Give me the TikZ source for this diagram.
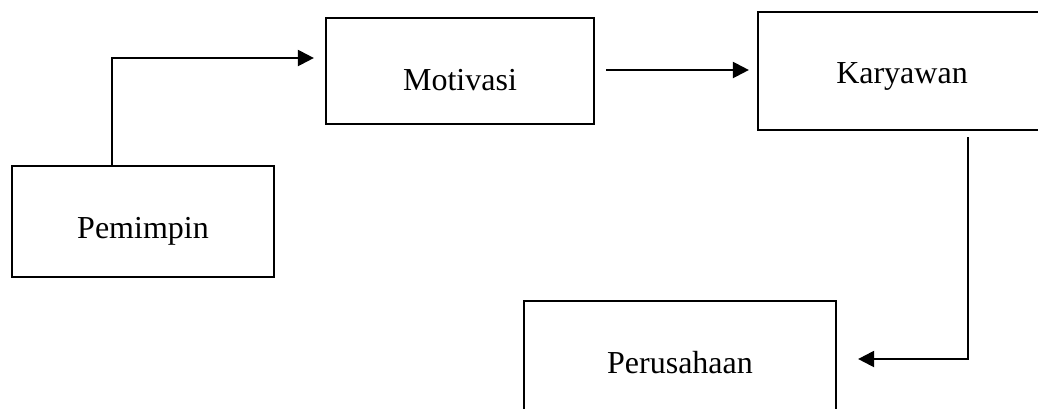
\documentclass[tikz,border=0pt]{standalone}
\usepackage{fontspec}
\setmainfont{Liberation Serif}
\usetikzlibrary{arrows.meta}
\begin{document}
\begin{tikzpicture}[x=1pt,y=-1pt,
  box/.style={draw,line width=2.2pt,inner sep=0pt,text depth=0pt,
    font=\fontsize{32}{36}\selectfont},
  arr/.style={line width=2.2pt,-{Triangle[length=16pt,width=16pt]}}]
\useasboundingbox (0,0) rectangle (1038,408);
\clip (0,0) rectangle (1038,408);
\node[box,minimum width=262pt,minimum height=111pt,text height=33pt] (pem) at (143,221.5) {Pemimpin};
\node[box,minimum width=268pt,minimum height=106pt,text height=38pt] (mot) at (460,71) {Motivasi};
\node[box,minimum width=288pt,minimum height=118pt,text height=24pt] (kar) at (902,71) {Karyawan};
\node[box,minimum width=312pt,minimum height=120pt,text height=24pt] (per) at (680,361) {Perusahaan};
\draw[arr] (pem.north -| 112,0) |- ([xshift=-11pt]mot.west |- 0,58);
\draw[arr] ([xshift=11pt]mot.east |- 0,70) -- ([xshift=-8pt]kar.west |- 0,70);
\draw[arr] ([yshift=-6pt]kar.south -| 968,0) |- ([xshift=21pt]per.east |- 0,359);
\end{tikzpicture}
\end{document}
